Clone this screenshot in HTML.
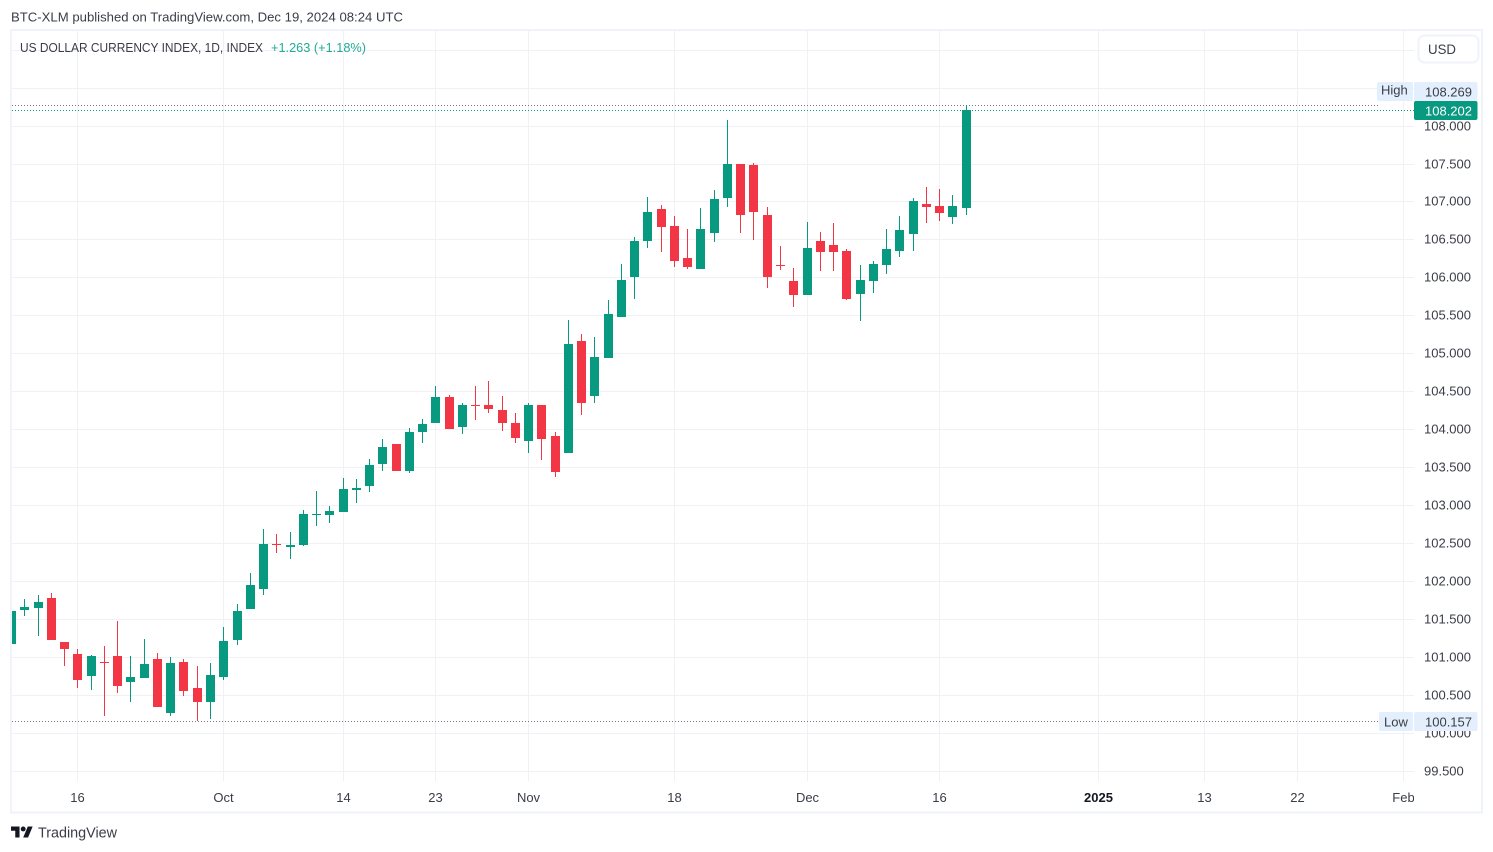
<!DOCTYPE html>
<html lang="en">
<head>
<meta charset="utf-8">
<title>US Dollar Currency Index, 1D</title>
<style>
html,body{margin:0;padding:0;background:#fff;width:1493px;height:852px;overflow:hidden}
svg{display:block;font-family:"Liberation Sans",sans-serif}
</style>
</head>
<body>
<svg id="chart" xmlns="http://www.w3.org/2000/svg" width="1493" height="852" viewBox="0 0 1493 852">
  <defs>
    <clipPath id="pane-clip"><rect x="12" y="31" width="1402" height="750"/></clipPath>
    <clipPath id="time-clip"><rect x="12" y="782" width="1402" height="29"/></clipPath>
  </defs>
  <rect x="0" y="0" width="1493" height="852" fill="#ffffff"/>
  <text x="11" y="21.5" font-size="13" fill="#3a3d47" textLength="392" lengthAdjust="spacingAndGlyphs">BTC-XLM published on TradingView.com, Dec 19, 2024 08:24 UTC</text>
  <g id="grid"></g>
  <g id="price-labels"></g>
  <g id="time-labels" clip-path="url(#time-clip)"></g>
  <g id="levels" clip-path="url(#pane-clip)"></g>
  <g id="candles" clip-path="url(#pane-clip)"></g>
  <text x="20" y="52" font-size="13" fill="#3a3d47" textLength="243" lengthAdjust="spacingAndGlyphs">US DOLLAR CURRENCY INDEX, 1D, INDEX</text>
  <text x="271" y="52" font-size="13" fill="#22ab94" textLength="95" lengthAdjust="spacingAndGlyphs">+1.263 (+1.18%)</text>
  <g>
    <rect x="1418.5" y="35.5" width="60" height="27" rx="6" fill="#ffffff" stroke="#f0f3fa" stroke-width="2"/>
    <text x="1442" y="54" font-size="14" fill="#3a3d47" text-anchor="middle" textLength="28" lengthAdjust="spacingAndGlyphs">USD</text>
  </g>
  <g id="badges"></g>
  <rect x="11" y="30" width="1471" height="782.5" fill="none" stroke="#f0f3fa" stroke-width="2"/>
  <g>
    <g transform="translate(11 824.1) scale(0.61)" fill="#131722">
      <path d="M14 22H7V11H0V4h14v18zM28 22h-8l7.5-18h8L28 22z"/>
      <circle cx="20" cy="8" r="4"/>
    </g>
    <text x="38" y="837.5" font-size="14.5" fill="#3a3d47" textLength="79" lengthAdjust="spacingAndGlyphs">TradingView</text>
  </g>
</svg>
<script>
const opens = [101.174,101.622,101.649,101.780,101.201,101.042,100.752,100.937,101.016,100.673,
100.726,100.976,100.265,100.937,100.594,100.410,100.739,101.227,101.635,101.898,
102.491,102.452,102.478,102.873,102.873,102.913,103.203,103.256,103.546,103.809,
103.453,103.967,104.086,104.429,104.033,104.323,104.323,104.257,104.086,103.848,
104.323,103.914,103.690,105.167,104.442,104.943,105.483,106.010,106.485,106.906,
106.682,106.261,106.116,106.590,107.051,107.500,107.487,106.828,106.168,105.958,
105.773,106.485,106.432,106.353,105.786,105.958,106.168,106.353,106.577,106.972,
106.946,106.801,106.920];
const highs = [101.701,101.767,101.820,101.846,101.201,101.108,101.029,101.148,101.477,101.016,
101.240,101.055,101.003,100.976,100.884,100.924,101.398,101.701,102.110,102.689,
102.623,102.649,102.939,103.190,102.992,103.361,103.348,103.611,103.875,103.809,
104.020,104.139,104.574,104.455,104.349,104.574,104.640,104.442,104.218,104.349,
104.323,103.967,105.443,105.259,105.220,105.707,106.182,106.537,107.065,106.959,
106.814,106.643,106.920,107.157,108.079,107.500,107.513,106.933,106.419,106.129,
106.735,106.603,106.722,106.379,106.168,106.221,106.643,106.814,107.051,107.196,
107.170,107.091,108.269];
const lows = [101.148,101.543,101.280,101.227,100.884,100.594,100.568,100.225,100.528,100.410,
100.726,100.344,100.225,100.489,100.157,100.186,100.700,101.161,101.635,101.820,
102.372,102.293,102.465,102.728,102.768,102.913,103.031,103.177,103.453,103.453,
103.427,103.822,104.086,104.007,103.941,104.125,104.218,103.980,103.822,103.690,
103.598,103.374,103.690,104.191,104.349,104.943,105.483,105.720,106.393,106.340,
106.142,106.116,106.116,106.472,106.933,106.590,106.498,105.865,106.102,105.615,
105.773,106.089,106.089,105.707,105.430,105.799,106.050,106.274,106.353,106.722,
106.748,106.709,106.828];
const closes = [101.609,101.662,101.728,101.227,101.108,100.700,101.016,100.924,100.621,100.739,
100.911,100.344,100.924,100.555,100.410,100.766,101.214,101.609,101.952,102.491,
102.478,102.478,102.886,102.886,102.926,103.216,103.229,103.532,103.770,103.453,
103.967,104.073,104.429,104.007,104.323,104.310,104.270,104.086,103.888,104.323,
103.875,103.440,105.127,104.349,104.956,105.522,105.971,106.485,106.867,106.669,
106.221,106.142,106.643,107.038,107.500,106.828,106.867,106.010,106.155,105.773,
106.393,106.340,106.340,105.720,105.971,106.182,106.379,106.630,107.012,106.933,
106.854,106.946,108.202];
const priceTicks = [99.5,100,100.5,101,101.5,102,102.5,103,103.5,104,104.5,105,105.5,106,106.5,107,107.5,108,108.5,109];
const timeLabels = ['16','Oct','14','23','Nov','18','Dec','16','2025','13','22','Feb'];
const timeBarIndex = [5,16,25,32,39,50,60,70,82,90,97,105];
const boldTimeLabels = ['2025'];

const NS = 'http://www.w3.org/2000/svg';
const GREEN = '#089981';
const RED = '#f23645';
function yAxis(price){ return 125.6 + (108 - price) * 75.88; }
function xAxis(index){ return Math.round(11.15 + 13.256 * index); }
function make(tag, parent, attrs){
  const el = document.createElementNS(NS, tag);
  for (const k in attrs) el.setAttribute(k, attrs[k]);
  parent.appendChild(el);
  return el;
}

const grid = document.getElementById('grid');
priceTicks.forEach(function(p){
  const line = make('rect', grid, {x:12, y:Math.round(yAxis(p)), width:1402, height:1, fill:'#f0f1f4', 'shape-rendering':'crispEdges'});
  
  
});
timeBarIndex.forEach(function(i){
  const line = make('rect', grid, {x:xAxis(i), y:31, width:1, height:750, fill:'#f0f1f4', 'shape-rendering':'crispEdges'});
  
  
});

const priceGroup = document.getElementById('price-labels');
priceTicks.forEach(function(p){
  const t = make('text', priceGroup, {x:1424, y:Math.round(yAxis(p)) + 4.5, 'font-size':13, fill:'#3a3d47'});
  t.textContent = p.toFixed(3);
  
  
});

const timeGroup = document.getElementById('time-labels');
timeLabels.forEach(function(label, k){
  const bold = boldTimeLabels.indexOf(label) >= 0;
  const t = make('text', timeGroup, {x:xAxis(timeBarIndex[k]) + 0.5, y:802, 'font-size':13, fill:bold ? '#131722' : '#3a3d47', 'text-anchor':'middle', 'font-weight':bold ? 'bold' : 'normal'});
  t.textContent = label;
  
  
});

const maxHigh = Math.max.apply(null, highs);
const minLow = Math.min.apply(null, lows);
const lastClose = closes[closes.length - 1];

const levels = document.getElementById('levels');
const highLine = make('line', levels, {x1:12, x2:1378, y1:Math.round(yAxis(maxHigh)) + 0.5, y2:Math.round(yAxis(maxHigh)) + 0.5, stroke:'#787b86', 'stroke-width':1, 'stroke-dasharray':'1 2', 'shape-rendering':'crispEdges'});


const lowLine = make('line', levels, {x1:12, x2:1379, y1:Math.round(yAxis(minLow)) + 0.5, y2:Math.round(yAxis(minLow)) + 0.5, stroke:'#787b86', 'stroke-width':1, 'stroke-dasharray':'1 2', 'shape-rendering':'crispEdges'});


const lastLine = make('line', levels, {x1:12, x2:1414, y1:Math.round(yAxis(lastClose)) + 0.5, y2:Math.round(yAxis(lastClose)) + 0.5, stroke:GREEN, 'stroke-width':1, 'stroke-dasharray':'1 2', 'shape-rendering':'crispEdges'});



const candles = document.getElementById('candles');
opens.forEach(function(o, i){
  const c = closes[i];
  const color = c >= o ? GREEN : RED;
  const x = xAxis(i);
  const wt = Math.round(yAxis(highs[i]));
  const wb = Math.round(yAxis(lows[i]));
  const bt = Math.round(yAxis(Math.max(o, c)));
  const bb = Math.round(yAxis(Math.min(o, c)));
  const wick = make('rect', candles, {x:x, y:wt, width:1, height:Math.max(1, wb - wt), fill:color, 'shape-rendering':'crispEdges'});
  
  
  const body = make('rect', candles, {x:x - 4, y:bt, width:9, height:Math.max(1, bb - bt), fill:color, 'shape-rendering':'crispEdges'});
  
  
});

const badges = document.getElementById('badges');
function badge(name, y, tag, value, boxFill, textFill, tagOffset){
  const box = make('rect', badges, {x:1414, y:y - 10, width:63.5, height:19, rx:2, fill:boxFill});
  
  
  const val = make('text', badges, {x:1425, y:y + 4.5, 'font-size':13, fill:textFill});
  val.textContent = value;
  
  
  if (tag) {
    const w = tag === 'High' ? 36 : 34;
    const tb = make('rect', badges, {x:1413 - w, y:y - 10, width:w, height:19, rx:2, fill:boxFill});
    
    
    const tt = make('text', badges, {x:1413 - w + (tag === 'High' ? 4 : 5), y:y + tagOffset, 'font-size':13, fill:'#3a3d47'});
    tt.textContent = tag;
    
    
  }
}
badge('high', 92, 'High', maxHigh.toFixed(3), '#e3effd', '#3a3d47', 2.5);
badge('low', Math.round(yAxis(minLow)) + 1, 'Low', minLow.toFixed(3), '#e3effd', '#3a3d47', 4.5);
badge('last-price', 111, '', lastClose.toFixed(3), GREEN, '#ffffff', 0);
</script>
</body>
</html>
